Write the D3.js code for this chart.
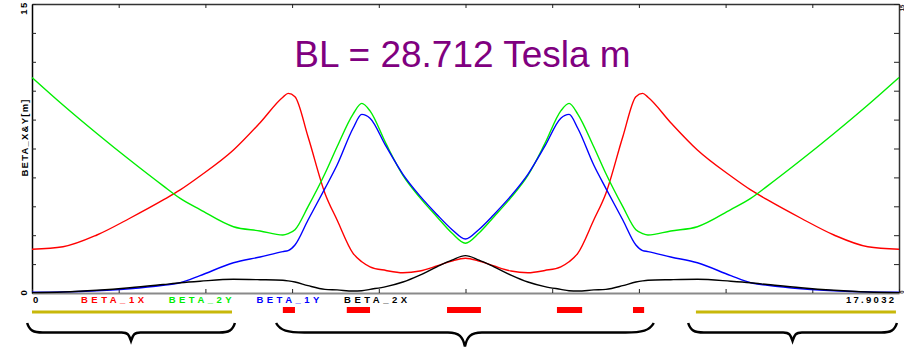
<!DOCTYPE html>
<html>
<head>
<meta charset="utf-8">
<script src="https://cdn.jsdelivr.net/npm/d3@7"></script>
<style>
  body { margin: 0; background: #fff; }
  svg { display: block; font-family: Arial, "Liberation Sans", sans-serif; }
</style>
</head>
<body>
<div class="graph"></div>
<script>
/*---------- DATA ----------*/

// position along the lattice [m]
const sPos = [0, 0.64, 1.34, 2.02, 2.71, 3.06, 3.47, 4.16, 4.71, 5.18, 5.29, 5.43, 5.70, 6.05, 6.30, 6.63, 6.81, 6.98, 7.31, 7.66, 8.01, 8.36, 8.67, 8.95,
              9.23, 9.54, 9.89, 10.24, 10.59, 10.92, 11.09, 11.27, 11.60, 11.85, 12.20, 12.47, 12.61, 12.72, 13.19, 13.74, 14.43, 14.84, 15.19, 15.88, 16.56, 17.26, 17.9032];

const beta1X = [2.27, 2.40, 3.01, 3.88, 4.83, 5.35, 6.07, 7.42, 8.84, 10.16, 10.36, 10.19, 8.11, 5.17, 3.79, 2.06, 1.62, 1.36, 1.17, 1.05, 1.14, 1.40, 1.66, 1.80,
                1.66, 1.40, 1.14, 1.05, 1.17, 1.36, 1.62, 2.06, 3.79, 5.17, 8.11, 10.19, 10.36, 10.16, 8.84, 7.42, 6.07, 5.35, 4.83, 3.88, 3.01, 2.40, 2.27];

const beta2Y = [11.19, 9.76, 8.28, 6.90, 5.56, 4.91, 4.33, 3.44, 3.22, 3.01, 3.08, 3.28, 4.48, 6.20, 7.59, 9.29, 9.84, 9.45, 7.75, 6.10, 4.95, 3.96, 3.11, 2.58,
                3.11, 3.96, 4.95, 6.10, 7.75, 9.45, 9.84, 9.29, 7.59, 6.20, 4.48, 3.28, 3.08, 3.01, 3.22, 3.44, 4.33, 4.91, 5.56, 6.90, 8.28, 9.76, 11.19];

const beta1Y = [0.04, 0.06, 0.12, 0.22, 0.40, 0.53, 0.90, 1.57, 1.87, 2.15, 2.20, 2.49, 3.79, 5.43, 6.64, 8.55, 9.27, 9.07, 7.62, 6.16, 5.04, 4.08, 3.30, 2.80,
                3.30, 4.08, 5.04, 6.16, 7.62, 9.07, 9.27, 8.55, 6.64, 5.43, 3.79, 2.49, 2.20, 2.15, 1.87, 1.57, 0.90, 0.53, 0.40, 0.22, 0.12, 0.06, 0.04];

const beta2X = [0.02, 0.05, 0.14, 0.27, 0.44, 0.53, 0.61, 0.71, 0.69, 0.66, 0.63, 0.57, 0.38, 0.19, 0.16, 0.10, 0.12, 0.19, 0.33, 0.57, 0.93, 1.36, 1.71, 1.94,
                1.71, 1.36, 0.93, 0.57, 0.33, 0.19, 0.12, 0.10, 0.16, 0.19, 0.38, 0.57, 0.63, 0.66, 0.69, 0.71, 0.61, 0.53, 0.44, 0.27, 0.14, 0.05, 0.02];

const seriesNames = ["BETA_1X", "BETA_2Y", "BETA_1Y", "BETA_2X"];
const seriesValues = [beta1X, beta2Y, beta1Y, beta2X];

const S_MAX = 17.9032;
const xTickValues = [0, 1.79032, 3.58064, 5.37096, 7.16128, 8.9516, 10.74192, 12.53224, 14.32256, 16.11288, 17.9032];
const yTickValues = [0, 1.5, 3, 4.5, 6, 7.5, 9, 10.5, 12, 13.5, 15];
const xTickLabels = ["0", "17.9032"];
const yTickLabels = ["0", "15"];

// lattice elements [start, end] in m
const dipoles = [[0, 4.13], [13.71, 17.84]];
const quads = [[5.18, 5.43], [6.50, 6.98], [8.57, 9.27], [10.84, 11.36], [12.41, 12.64]];
const braces = [[-0.10, 4.19], [5.04, 12.84], [13.55, 17.86]];

const titleText = "BL = 28.712 Tesla m";
const yLabelText = "BETA_X&Y[m]";

/*---------- LAYOUT / STYLE ----------*/

const SIZE = {X: 904, Y: 347};
const PLOT = {LEFT: 32, RIGHT: 899, TOP: 4, BOTTOM: 293};
const COLORS = ["#ff0000", "#00ee00", "#0000ff", "#000000"];
const LEGEND = {X0: 81, STEP: 87.7, Y: 302.5, WIDTH: 63};

const svg = d3.select(".graph").append("svg")
    .attr("width", SIZE.X)
    .attr("height", SIZE.Y);

//scales
const x = d3.scaleLinear().domain([0, S_MAX]).range([PLOT.LEFT, PLOT.RIGHT]);
const y = d3.scaleLinear().domain([0, 15]).range([PLOT.BOTTOM, PLOT.TOP]);

//axes (ticks point inside)
function styleAxis(g, color, width) {
    g.select(".domain").attr("stroke", color).attr("stroke-width", width);
    g.selectAll(".tick line").attr("stroke", "#222").attr("stroke-width", 1);
    g.selectAll(".tick text").remove();
}

svg.append("g")
    .attr("transform", `translate(0, ${PLOT.TOP})`)
    .call(d3.axisTop(x).tickValues(xTickValues).tickSizeInner(-4).tickSizeOuter(0))
    .call(g => styleAxis(g, "#333", 1.5));

svg.append("g")
    .attr("transform", `translate(${PLOT.RIGHT}, 0)`)
    .call(d3.axisRight(y).tickValues(yTickValues).tickSizeInner(-5).tickSizeOuter(0))
    .call(g => styleAxis(g, "#333", 1.5));

svg.append("g")
    .attr("transform", `translate(${PLOT.LEFT}, 0)`)
    .call(d3.axisLeft(y).tickValues(yTickValues).tickSizeInner(-4).tickSizeOuter(0))
    .call(g => styleAxis(g, "#000", 1.5));

svg.append("g")
    .attr("transform", `translate(0, ${PLOT.BOTTOM})`)
    .call(d3.axisBottom(x).tickValues(xTickValues).tickSizeInner(-4).tickSizeOuter(0))
    .call(g => styleAxis(g, "#8a8a8a", 2));

//curves
const line = d3.line()
    .x(d => x(d[0]))
    .y(d => y(d[1]))
    .curve(d3.curveMonotoneX);

seriesValues.forEach((vals, i) => {
    svg.append("path")
        .datum(sPos.map((s, j) => [s, vals[j]]))
        .attr("fill", "none")
        .attr("stroke", COLORS[i])
        .attr("stroke-width", 1.4)
        .attr("d", line);
});

//tick labels
const labelFont = g => g.attr("font-size", 9.5).attr("font-weight", "bold");

svg.append("text").call(labelFont)
    .attr("x", x(0) + 1).attr("y", 302.5)
    .text(xTickLabels[0]);
svg.append("text").call(labelFont)
    .attr("x", x(S_MAX) - 5).attr("y", 302.5)
    .attr("text-anchor", "end")
    .attr("textLength", 48).attr("lengthAdjust", "spacing")
    .text(xTickLabels[1]);

[[0, yTickLabels[0]], [15, yTickLabels[1]]].forEach(([v, t]) => {
    const yy = v === 15 ? 8 : y(v) - 1;
    svg.append("text").call(labelFont)
        .attr("text-anchor", "middle")
        .attr("transform", `translate(27, ${yy}) rotate(-90)`)
        .attr("letter-spacing", 1.5)
        .text(t);
    // the right-hand copy sits at the picture's edge
    svg.append("text")
        .attr("font-size", 6).attr("font-weight", "bold")
        .attr("text-anchor", "middle")
        .attr("transform", `translate(904, ${yy}) rotate(-90)`)
        .text(t);
});

//y axis title
svg.append("text").call(labelFont)
    .attr("text-anchor", "middle")
    .attr("transform", "translate(27.5, 138) rotate(-90)")
    .attr("textLength", 77).attr("lengthAdjust", "spacing")
    .text(yLabelText);

//legend names
seriesNames.forEach((name, i) => {
    svg.append("text").call(labelFont)
        .attr("x", LEGEND.X0 + i * LEGEND.STEP)
        .attr("y", LEGEND.Y)
        .attr("fill", COLORS[i])
        .attr("textLength", LEGEND.WIDTH).attr("lengthAdjust", "spacing")
        .text(name);
});

//title
svg.append("text")
    .attr("x", 462.5).attr("y", 67)
    .attr("text-anchor", "middle")
    .attr("font-size", 37)
    .attr("fill", "#800080")
    .text(titleText);

//lattice: dipoles and quadrupoles
svg.selectAll(".dipole")
    .data(dipoles)
    .enter()
    .append("line")
        .attr("class", "dipole")
        .attr("x1", d => x(d[0])).attr("x2", d => x(d[1]))
        .attr("y1", 312).attr("y2", 312)
        .attr("stroke", "#c8b80a")
        .attr("stroke-width", 3);

svg.selectAll(".quad")
    .data(quads)
    .enter()
    .append("rect")
        .attr("class", "quad")
        .attr("x", d => x(d[0]))
        .attr("width", d => x(d[1]) - x(d[0]))
        .attr("y", 307).attr("height", 6)
        .attr("fill", "#ff0000");

//braces
function bracePath(d) {
    const x0 = x(d[0]), x1 = x(d[1]), xc = (x0 + x1) / 2;
    const w = x1 - x0;
    const top = 323, mid = 332.5;
    const tip = mid + Math.min(14, w * 0.04);
    const r = w * 0.075;
    return `M${x0},${top}` +
        `C${x0 + r * 0.15},${top + (mid - top) * 0.8} ${x0 + r * 0.4},${mid} ${x0 + r},${mid}` +
        `L${xc - r * 0.6},${mid}` +
        `C${xc - r * 0.2},${mid} ${xc - 2},${mid + (tip - mid) * 0.3} ${xc},${tip}` +
        `C${xc + 2},${mid + (tip - mid) * 0.3} ${xc + r * 0.2},${mid} ${xc + r * 0.6},${mid}` +
        `L${x1 - r},${mid}` +
        `C${x1 - r * 0.4},${mid} ${x1 - r * 0.15},${top + (mid - top) * 0.8} ${x1},${top}`;
}

svg.selectAll(".brace")
    .data(braces)
    .enter()
    .append("path")
        .attr("class", "brace")
        .attr("d", bracePath)
        .attr("fill", "none")
        .attr("stroke", "#000")
        .attr("stroke-width", 2.5);
</script>
</body>
</html>
